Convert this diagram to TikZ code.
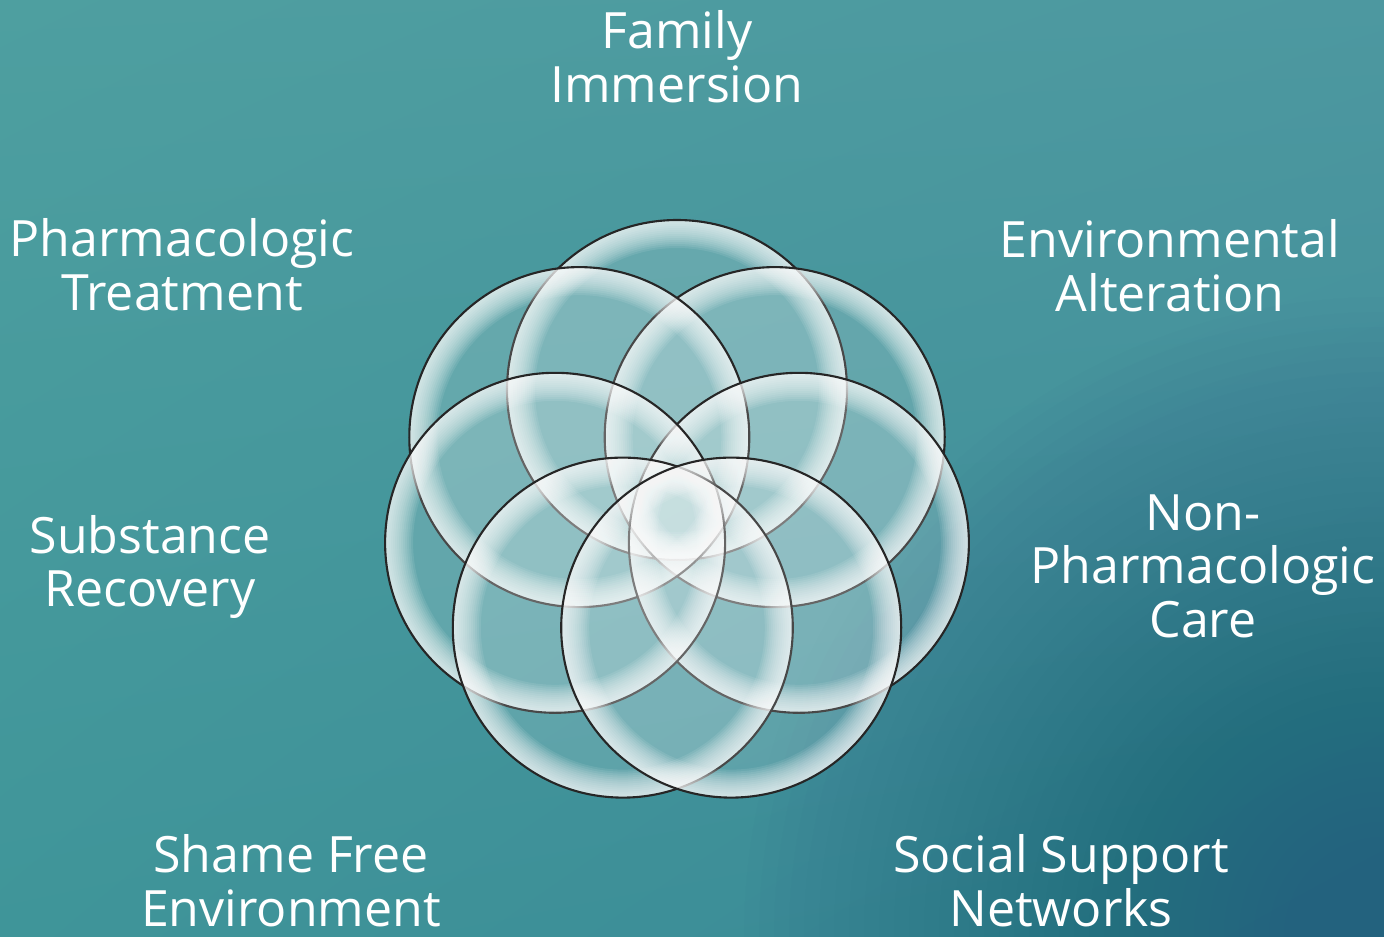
\documentclass[tikz,border=0pt]{standalone}
\usepackage{fontspec}
\setmainfont{Open Sans}
\usetikzlibrary{shadings}
\definecolor{tealul}{HTML}{4E9FA0}
\definecolor{tealur}{HTML}{4D98A0}
\definecolor{tealll}{HTML}{3F9599}
\definecolor{teallr}{HTML}{3A8896}
\definecolor{tealdark}{HTML}{23627E}
\definecolor{ringgray}{HTML}{262626}
\begin{document}
\begin{tikzpicture}[x=0.02cm, y=-0.02cm,
    ring/.style={fill=white, opacity=0.16},
    rim/.style={fill=white, opacity=0.09, even odd rule},
    ringline/.style={draw=ringgray, line width=1.2pt},
    lbl/.style={text=white, align=center, font=\fontsize{28.5}{30.5}\selectfont}]
    \useasboundingbox (0,0) rectangle (1384,937);
    \clip (0,0) rectangle (1384,937);
    % background
    \shade[upper left=tealul, upper right=tealur, lower left=tealll, lower right=teallr] (0,0) rectangle (1384,937);
    \foreach \r in {640,625,...,100}
        \fill[tealdark, opacity=0.028] (1384,937) circle[radius=\r];
    \coordinate (O) at (677,515);
    \coordinate (A) at (677,390);
    \coordinate (B) at (774.7,437.1);
    \coordinate (C) at (798.9,542.8);
    \coordinate (D) at (731.2,627.6);
    \coordinate (E) at (622.8,627.6);
    \coordinate (F) at (555.1,542.8);
    \coordinate (G) at (579.3,437.1);
    \foreach \c in {A,B,G,C,F,E,D}{
        \fill[ring] (\c) circle[radius=170];
        \foreach \r in {142,144,...,168}
            \fill[rim] (\c) circle[radius=170] (\c) circle[radius=\r];
        \draw[ringline] (\c) circle[radius=170];
    }
    \node[lbl] (family) at (677,57) {Family\\Immersion};
    \node[lbl] (pharma) at (182,265) {Pharmacologic\\Treatment};
    \node[lbl] (environ) at (1170,266) {Environmental\\Alteration};
    \node[lbl] (substance) at (150,567) {Substance\\Recovery};
    \node[lbl] (nonpharma) at (1203,566) {Non-\\Pharmacologic\\Care};
    \node[lbl] (shame) at (291,881) {Shame Free\\Environment};
    \node[lbl] (social) at (1061,881) {Social Support\\Networks};
\end{tikzpicture}
\end{document}
